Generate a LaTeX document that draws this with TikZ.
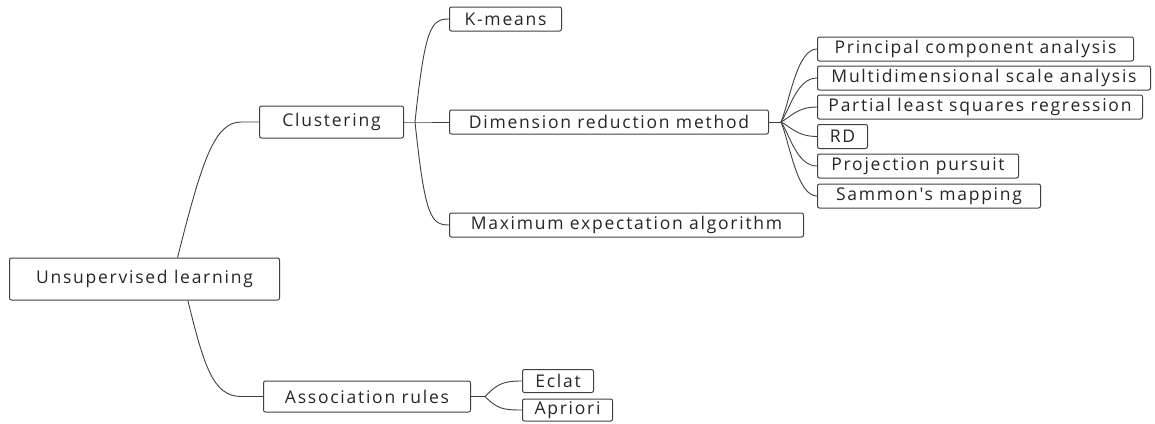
\documentclass[tikz,border=0pt]{standalone}
\usepackage{fontspec}
\newfontfamily\mapfont[LetterSpace=10]{Open Sans}
\usetikzlibrary{calc}
\definecolor{edgegray}{HTML}{404040}
\definecolor{textgray}{HTML}{262626}
\tikzset{
  topic/.style={draw=edgegray, line width=1pt, rounded corners=2pt, rectangle,
    anchor=west, inner sep=0pt, text=textgray, align=center,
    font=\mapfont\fontsize{17.5}{20}\selectfont},
  rootbox/.style={topic, minimum height=42pt},
  mainbox/.style={topic, minimum height=32pt},
  leafbox/.style={topic, minimum height=24pt},
  link/.style={draw=edgegray, line width=0.9pt}
}
\begin{document}
\begin{tikzpicture}[x=1pt,y=-1pt]
\useasboundingbox (0,0) rectangle (1155,423);

% nodes
\node[rootbox, minimum width=270pt] (root) at (9,279) {Unsupervised learning};
\node[mainbox, minimum width=144pt] (clus) at (259,122) {Clustering};
\node[mainbox, minimum width=207pt, minimum height=31pt] (assoc) at (263,396.5) {Association rules};

\node[leafbox, minimum width=112pt] (kmeans) at (449,19) {K-means};
\node[leafbox, minimum width=319pt] (dim) at (449,122) {Dimension reduction method};
\node[leafbox, minimum width=354pt] (maxexp) at (449,225) {Maximum expectation algorithm};

\node[leafbox, minimum width=316pt] (pca) at (817,49) {Principal component analysis};
\node[leafbox, minimum width=333pt] (mds) at (817,78) {Multidimensional scale analysis};
\node[leafbox, minimum width=325pt] (pls) at (817,107) {Partial least squares regression};
\node[leafbox, minimum width=50pt] (rd) at (817,136.5) {RD};
\node[leafbox, minimum width=201pt] (pp) at (817,166) {Projection pursuit};
\node[leafbox, minimum width=223pt] (sam) at (817,196) {Sammon's mapping};

\node[leafbox, minimum width=71pt, minimum height=23pt] (eclat) at (522,381) {Eclat};
\node[leafbox, minimum width=90pt, minimum height=22pt] (apriori) at (522,410) {Apriori};

% junction points
\coordinate (rtop) at ($(root.north west)!0.622!(root.north east)$);
\coordinate (rbot) at ($(root.south west)!0.66!(root.south east)$);
\coordinate (cj) at ($(clus.east)+(11,0)$);
\coordinate (dj) at ($(dim.east)+(12,0)$);
\coordinate (aj) at ($(assoc.east)+(14,0)$);

% root branches
\draw[link] (rtop) .. controls ($(rtop)+(24,-95)$) and ($(clus.west)+(-45,0)$) .. ($(clus.west)+(-18,0)$) -- (clus.west);
\draw[link] (rbot) .. controls ($(rbot)+(16,65)$) and ($(assoc.west)+(-50,0)$) .. ($(assoc.west)+(-22,0)$) -- (assoc.west);

% clustering branches
\draw[link] (clus.east) -- (cj) -- (dim.west);
\draw[link] (cj) .. controls ($(cj)+(10,-95)$) and ($(kmeans.west)+(-18,0)$) .. (kmeans.west);
\draw[link] (cj) .. controls ($(cj)+(10,95)$) and ($(maxexp.west)+(-18,0)$) .. (maxexp.west);

% dimension reduction branches
\draw[link] (dim.east) -- (dj);
\foreach \t in {pca,mds,pls,rd,pp,sam}{
  \draw[link] (dj) .. controls ($(dj)!0.3!(dj |- \t.west)+(9,0)$) and ($(\t.west)+(-20,0)$) .. (\t.west);
}

% association branches
\draw[link] (assoc.east) -- (aj);
\draw[link] (aj) .. controls ($(aj)+(12,-12)$) and ($(eclat.west)+(-20,0)$) .. (eclat.west);
\draw[link] (aj) .. controls ($(aj)+(12,12)$) and ($(apriori.west)+(-20,0)$) .. (apriori.west);
\end{tikzpicture}
\end{document}
